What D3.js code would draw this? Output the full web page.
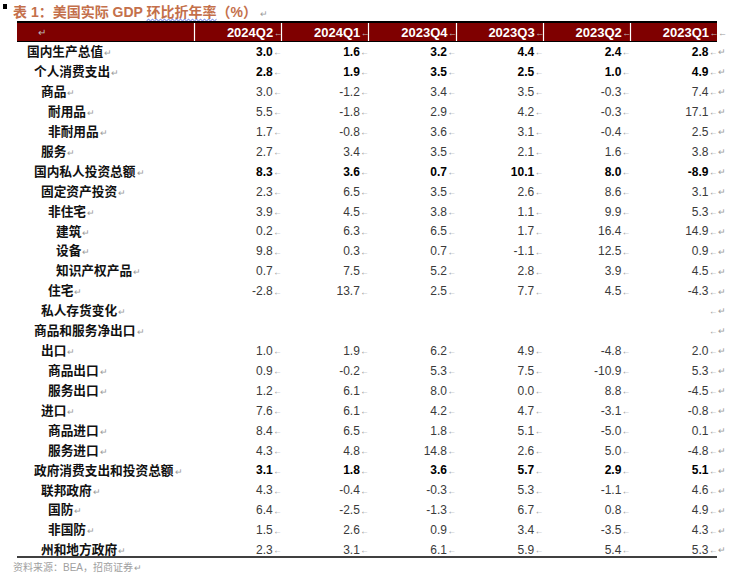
<!DOCTYPE html>
<html><head><meta charset="utf-8">
<script src="https://cdn.jsdelivr.net/npm/d3@7/dist/d3.min.js"></script>
<style>html,body{margin:0;padding:0;background:#fff;}svg{display:block;}</style>
</head><body>
<script>
const title = "表 1：美国实际 GDP 环比折年率（%）";
const source = "资料来源：BEA，招商证券";
const quarters = ["2024Q2","2024Q1","2023Q4","2023Q3","2023Q2","2023Q1"];
const items = ["国内生产总值","个人消费支出","商品","耐用品","非耐用品","服务","国内私人投资总额","固定资产投资","非住宅","建筑","设备","知识产权产品","住宅","私人存货变化","商品和服务净出口","出口","商品出口","服务出口","进口","商品进口","服务进口","政府消费支出和投资总额","联邦政府","国防","非国防","州和地方政府"];
const levels = [0,1,2,3,3,2,1,2,3,4,4,4,3,2,1,2,3,3,2,3,3,1,2,3,3,2];
const totals = ["国内生产总值","个人消费支出","国内私人投资总额","政府消费支出和投资总额"];
const v2024Q2 = [3.0,2.8,3.0,5.5,1.7,2.7,8.3,2.3,3.9,0.2,9.8,0.7,-2.8,null,null,1.0,0.9,1.2,7.6,8.4,4.3,3.1,4.3,6.4,1.5,2.3];
const v2024Q1 = [1.6,1.9,-1.2,-1.8,-0.8,3.4,3.6,6.5,4.5,6.3,0.3,7.5,13.7,null,null,1.9,-0.2,6.1,6.1,6.5,4.8,1.8,-0.4,-2.5,2.6,3.1];
const v2023Q4 = [3.2,3.5,3.4,2.9,3.6,3.5,0.7,3.5,3.8,6.5,0.7,5.2,2.5,null,null,6.2,5.3,8.0,4.2,1.8,14.8,3.6,-0.3,-1.3,0.9,6.1];
const v2023Q3 = [4.4,2.5,3.5,4.2,3.1,2.1,10.1,2.6,1.1,1.7,-1.1,2.8,7.7,null,null,4.9,7.5,0.0,4.7,5.1,2.6,5.7,5.3,6.7,3.4,5.9];
const v2023Q2 = [2.4,1.0,-0.3,-0.3,-0.4,1.6,8.0,8.6,9.9,16.4,12.5,3.9,4.5,null,null,-4.8,-10.9,8.8,-3.1,-5.0,5.0,2.9,-1.1,0.8,-3.5,5.4];
const v2023Q1 = [2.8,4.9,7.4,17.1,2.5,3.8,-8.9,3.1,5.3,14.9,0.9,4.5,-4.3,null,null,2.0,5.3,-4.5,-0.8,0.1,-4.8,5.1,4.6,4.9,4.3,5.3];
const series = [v2024Q2,v2024Q1,v2023Q4,v2023Q3,v2023Q2,v2023Q1];

const W = 731, H = 575;
const left = 17, right = 717, labelColEnd = 194;
const headTop = 23, headBot = 41, bodyTop = 42, rowH = 19.92;
const fmt = d3.formatLocale({decimal: ".", thousands: ",", grouping: [3], currency: ["", ""], minus: "-"}).format(".1f");
const latin = "'Liberation Sans', Arial, 'Noto Sans CJK SC', sans-serif";
const cjk = "'Noto Sans CJK SC', 'Liberation Sans', sans-serif";
const markColor = "#9a9a9a";

const svg = d3.select("body").append("svg").attr("width", W).attr("height", H);
svg.append("rect").attr("width", W).attr("height", H).attr("fill", "#fff");

const x = d3.scaleBand().domain(quarters).range([labelColEnd, right]);
const y = d3.scaleBand().domain(d3.range(items.length)).range([bodyTop, bodyTop + rowH * items.length]);
const indent = d3.scaleOrdinal().domain([0,1,2,3,4]).range([27,34,41,48,56]);

// title
svg.append("rect").attr("x", 3).attr("y", 4).attr("width", 4).attr("height", 5).attr("fill", "#000");
const t = svg.append("text").attr("x", 13).attr("y", 17)
  .attr("font-family", latin).attr("font-size", 14).attr("font-weight", "bold").attr("fill", "#c4704b")
  .text(title);
// spell-check wavy underline under 环比折年率
let wx0 = 146, wx1 = 217;
try {
  const n = t.node();
  const i0 = title.indexOf("环"), i1 = title.indexOf("率");
  wx0 = n.getStartPositionOfChar(i0).x;
  wx1 = n.getEndPositionOfChar(i1).x;
} catch (e) {}
t.append("tspan").attr("fill", markColor).attr("font-weight", "normal").attr("font-size", 9).attr("dx", 3).text("↵");
const wav = d3.range(wx0, wx1, 2).map((px, i) => [px, i % 2 ? 19.3 : 20.8]);
svg.append("path").attr("d", d3.line()(wav)).attr("fill", "none").attr("stroke", "#3050e0").attr("stroke-width", 0.8);

// header
svg.append("rect").attr("x", left).attr("y", headTop).attr("width", right - left).attr("height", headBot - headTop).attr("fill", "#7f0000");
svg.append("line").attr("x1", left).attr("x2", right).attr("y1", 22).attr("y2", 22).attr("stroke", "#000").attr("stroke-width", 2);
svg.append("line").attr("x1", left).attr("x2", right).attr("y1", headBot + 0.5).attr("y2", headBot + 0.5).attr("stroke", "#000").attr("stroke-width", 1);
svg.selectAll("line.sep").data(quarters).enter().append("line").attr("class", "sep")
  .attr("x1", d => Math.round(x(d)) + 0.5).attr("x2", d => Math.round(x(d)) + 0.5)
  .attr("y1", headTop).attr("y2", headBot).attr("stroke", "#fff").attr("stroke-width", 1.2);
svg.append("text").attr("x", 38).attr("y", 36).attr("font-family", latin).attr("font-size", 10).attr("fill", "#bbb").text("↵");
svg.selectAll("text.qh").data(quarters).enter().append("text").attr("class", "qh")
  .attr("x", d => x(d) + x.bandwidth() - 8).attr("y", 37)
  .attr("text-anchor", "end").attr("font-family", latin).attr("font-size", 13).attr("font-weight", "bold").attr("fill", "#fff")
  .text(d => d);
svg.selectAll("text.qm").data(quarters).enter().append("text").attr("class", "qm")
  .attr("x", d => x(d) + x.bandwidth() - 7.5).attr("y", 36)
  .attr("font-family", latin).attr("font-size", 9).attr("fill", "#bbb")
  .text("←");
svg.append("text").attr("x", right + 1).attr("y", 36).attr("font-family", latin).attr("font-size", 9).attr("fill", markColor).text("←");

// row labels
const lab = svg.selectAll("text.lab").data(items).enter().append("text").attr("class", "lab")
  .attr("x", (d, i) => indent(levels[i])).attr("y", (d, i) => y(i) + y.bandwidth() / 2 + 4.3)
  .attr("font-family", cjk).attr("font-size", 12.7).attr("font-weight", 700).attr("fill", "#111")
  .text(d => d);
lab.append("tspan").attr("font-family", latin).attr("font-weight", "normal").attr("font-size", 9).attr("fill", markColor).attr("dx", 1).text("↵");

// values
quarters.forEach((q, c) => {
  const g = svg.append("g");
  const vals = series[c];
  const rx = x(q) + x.bandwidth() - 8.5;
  g.selectAll("text.v").data(vals).enter().append("text").attr("class", "v")
    .attr("x", rx).attr("y", (d, i) => y(i) + y.bandwidth() / 2 + 4.2)
    .attr("text-anchor", "end").attr("font-family", latin).attr("font-size", 12)
    .attr("font-weight", (d, i) => totals.includes(items[i]) ? "bold" : "normal")
    .attr("fill", (d, i) => totals.includes(items[i]) ? "#000" : "#3a3a3a")
    .text(d => d == null ? "" : fmt(d));
  g.selectAll("text.m").data(vals).enter().append("text").attr("class", "m")
    .attr("x", rx + 0.5).attr("y", (d, i) => y(i) + y.bandwidth() / 2 + 3.5)
    .attr("font-family", latin).attr("font-size", 8.5).attr("fill", markColor)
    .text(d => (c === quarters.length - 1) ? "←↵" : (d == null ? "" : "←"));
});

// bottom rule
svg.append("line").attr("x1", left).attr("x2", right).attr("y1", 557).attr("y2", 557).attr("stroke", "#000").attr("stroke-width", 1.5);

// source
const s = svg.append("text").attr("x", 13).attr("y", 571).attr("font-family", latin).attr("font-size", 10).attr("fill", "#a0a0a0").text(source);
s.append("tspan").attr("font-size", 8.5).attr("fill", markColor).attr("dx", 1).text("↵");
</script>
</body></html>
